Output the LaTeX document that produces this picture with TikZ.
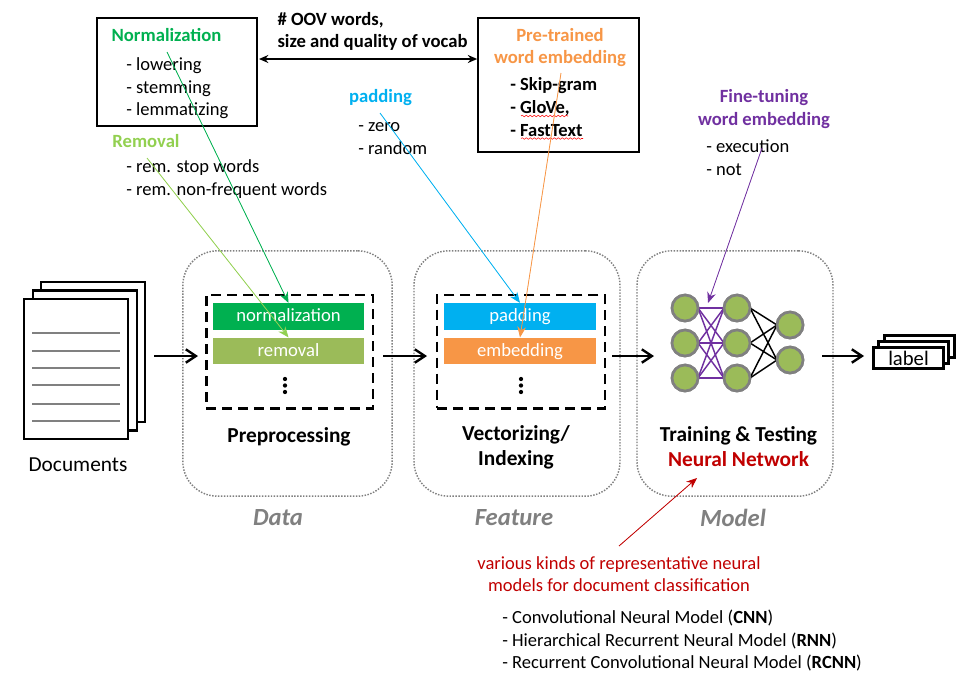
\documentclass[tikz,border=0pt]{standalone}
\usepackage{fontspec}
\setmainfont{Carlito}
\usetikzlibrary{arrows.meta,decorations.pathmorphing}
\definecolor{cgreen}{HTML}{00B050}
\definecolor{clime}{HTML}{92D050}
\definecolor{colive}{HTML}{9BBB59}
\definecolor{cblue}{HTML}{00B0F0}
\definecolor{corange}{HTML}{F79646}
\definecolor{cpurple}{HTML}{7030A0}
\definecolor{cred}{HTML}{C00000}
\definecolor{cgray}{HTML}{808080}
\tikzset{
  x=0.75pt,y=-0.75pt,
  txt/.style={font=\fontsize{13.9}{13.9}\selectfont,inner sep=0pt,anchor=base west,yshift=-5pt,text=black},
  head/.style={font=\fontsize{14}{16.6}\selectfont\bfseries,inner sep=0pt,align=center},
  bigtxt/.style={font=\fontsize{16}{18.7}\selectfont\bfseries,inner sep=0pt,align=center},
  infobox/.style={draw=black,line width=1.5pt,fill=white,inner sep=0pt},
  dotbox/.style={draw=cgray,dash pattern=on 1.1pt off 1.1pt,line width=1.1pt,rounded corners=26pt,inner sep=0pt},
  dashbox/.style={draw=black,line width=2pt,dash pattern=on 7.5pt off 4.5pt,inner sep=0pt},
  bar/.style={minimum width=113.5pt,minimum height=20pt,inner sep=0pt,text=white,text height=10.6pt,text depth=2.4pt,font=\fontsize{14}{14}\selectfont},
  page/.style={draw=black,line width=2.2pt,fill=white,inner sep=0pt},
  flow/.style={line width=2pt,-{Straight Barb[length=7.5pt,width=10pt,line width=1.8pt]}},
  thin arrow/.style={line width=0.6pt,-{Stealth[length=8pt,width=6.5pt]}},
  neuron/.style={circle,draw=cgray,fill=colive,line width=2pt,minimum size=19.5pt,inner sep=0pt},
  purpleedge/.style={draw=cpurple,line width=1.1pt},
  blackedge/.style={draw=black,line width=1.1pt},
  wavy/.style={draw=red,line width=0.4pt,decorate,decoration={snake,amplitude=0.6pt,segment length=3pt}},
  dotmark/.style={circle,fill=black,minimum size=3.2pt,inner sep=0pt},
}
\begin{document}
\begin{tikzpicture}
\useasboundingbox (0,0) rectangle (973,686);
% process containers
\node[dotbox,minimum width=157pt,minimum height=184pt] (data) at (287.5,373.5) {};
\node[dotbox,minimum width=154.5pt,minimum height=184pt] (feature) at (517,373.5) {};
\node[dotbox,minimum width=147pt,minimum height=184pt] (model) at (735,373.5) {};
% dashed boxes
\node[dashbox,minimum width=125pt,minimum height=85pt] (dashA) at (289.5,351.5) {};
\node[dashbox,minimum width=126pt,minimum height=85pt] (dashB) at (521,351.5) {};
\node[bar,fill=cgreen] (norm) at (288.5,316.5) {normalization};
\node[bar,fill=colive] (rem) at (288.5,351) {removal};
\node[bar,fill=cblue] (pad) at (520,316.5) {padding};
\node[bar,fill=corange] (emb) at (520,351) {embedding};
\foreach \n/\x in {a/285,b/521}{
  \node[dotmark] (d\n1) at (\x,379) {};
  \node[dotmark] (d\n2) at (\x,385.5) {};
  \node[dotmark] (d\n3) at (\x,392) {};
}
% documents
\node[page,minimum width=78pt,minimum height=105pt] (docC) at (93,352) {};
\node[page,minimum width=78pt,minimum height=105pt] (docB) at (85,360.5) {};
\node[page,minimum width=78pt,minimum height=105pt] (docA) at (76,369) {};
\foreach \i/\y in {1/333,2/351,3/368,4/385,5/404,6/421}{
  \coordinate (la\i) at (32,\y);
  \coordinate (lb\i) at (120,\y);
  \draw[cgray,line width=2.1pt] (la\i) -- (lb\i);
}
\node[font=\fontsize{16}{16}\selectfont,inner sep=0pt] (doclab) at (78,465) {Documents};
% label stack
\node[page,minimum width=52pt,minimum height=16pt] (lblC) at (919.5,346.5) {};
\node[page,minimum width=52pt,minimum height=16pt] (lblB) at (913.5,352.5) {};
\node[page,minimum width=52pt,minimum height=16pt,font=\fontsize{15.5}{15.5}\selectfont] (lblA) at (908.5,358) {label};
% network
\foreach \n/\x/\y in {a1/685/308,a2/685/343,a3/685/378,b1/737/308,b2/737/343,b3/737/378,c1/790/325,c2/790/360}{
  \node[neuron] (\n) at (\x,\y) {};
}
\foreach \s in {a1,a2,a3}\foreach \t in {b1,b2,b3}{
  \draw[purpleedge] (\s.center) ++(13,0) coordinate (p) (\t.center) ++(-13,0) coordinate (q) (p) -- (q);
}
\foreach \s in {b1,b2,b3}\foreach \t in {c1,c2}{
  \draw[blackedge] (\s.center) ++(13,0) coordinate (p) (\t.center) ++(-13,0) coordinate (q) (p) -- (q);
}
\foreach \n in {a1,a2,a3,b1,b2,b3,c1,c2}{\node[neuron] at (\n.center) {};}
% flow arrows
\coordinate (f1s) at (154,356); \coordinate (f1e) at (198,356);
\coordinate (f2s) at (383,356); \coordinate (f2e) at (427,356);
\coordinate (f3s) at (612,356); \coordinate (f3e) at (654,356);
\coordinate (f4s) at (822,356); \coordinate (f4e) at (864,356);
\draw[flow] (f1s) -- (f1e);
\draw[flow] (f2s) -- (f2e);
\draw[flow] (f3s) -- (f3e);
\draw[flow] (f4s) -- (f4e);
% container labels
\node[bigtxt] (lp) at (289,437) {Preprocessing};
\node[bigtxt] (lv) at (516,447.5) {Vectorizing/\\Indexing};
\node[bigtxt] (lt) at (738.5,447) {Training \& Testing\\\textcolor{cred}{Neural Network}};
\foreach \n/\t/\x in {tdata/Data/278,tfeat/Feature/514,tmodel/Model/733}{
  \node[font=\fontsize{18.5}{18.5}\selectfont\bfseries\itshape,text=cgray,inner sep=0pt] (\n) at (\x,517.5) {\t};
}
% top boxes
\node[infobox,minimum width=120pt,minimum height=81pt] (nbox) at (177,72) {};
\node[infobox,minimum width=120.5pt,minimum height=100.5pt] (pbox) at (558.5,85) {};
\node[head,text=cgreen] (hnorm) at (166.5,35) {Normalization};
\node[txt] (n1) at (126,64) {- lowering};
\node[txt] (n2) at (126,87) {- stemming};
\node[txt] (n3) at (126,109) {- lemmatizing};
\node[head,text=clime] (hrem) at (146,141) {Removal};
\node[txt] (r1) at (126,166) {- rem. stop words};
\node[txt] (r2) at (126,189) {- rem. non-frequent words};
\node[head,text=cblue] (hpad) at (380.5,97.5) {padding};
\node[txt] (z1) at (358,125) {- zero};
\node[txt] (z2) at (358,148) {- random};
\node[head,text=corange] (hpre) at (560,47.5) {Pre-trained\\word embedding};
\node[txt,font=\fontsize{13.9}{13.9}\selectfont\bfseries] (e1) at (510,84) {- Skip-gram};
\node[txt,font=\fontsize{13.9}{13.9}\selectfont\bfseries] (e2) at (510,107) {- GloVe,};
\node[txt,font=\fontsize{13.9}{13.9}\selectfont\bfseries] (e3) at (510,129.5) {- FastText};
\coordinate (w1a) at (521,116); \coordinate (w1b) at (568,116);
\coordinate (w2a) at (521,138.5); \coordinate (w2b) at (583,138.5);
\draw[wavy] (w1a) -- (w1b);
\draw[wavy] (w2a) -- (w2b);
\node[head,text=cpurple] (hfine) at (764,109) {Fine-tuning\\word embedding};
\node[txt] (f1t) at (706,146) {- execution};
\node[txt] (f2t) at (706,169) {- not};
\node[head,text=black,align=left] (oov) at (372.5,31.5) {\# OOV words,\\size and quality of vocab};
\draw[line width=1.2pt,{Stealth[length=7pt,width=6pt]}-{Stealth[length=7pt,width=6pt]}] (nbox.east |- 0,59) ++(1,0) coordinate (oa) -- (pbox.west |- 0,59);
% annotation arrows
\coordinate (sn) at (167,52); \coordinate (sr) at (147,158);
\coordinate (sp) at (380,113); \coordinate (so) at (561,73);
\coordinate (sf) at (762,148); \coordinate (sc) at (619,546);
\coordinate (ec) at (697,478);
\draw[thin arrow,draw=cgreen,fill=cgreen] (sn) -- (norm.north);
\draw[thin arrow,draw=clime,fill=clime] (sr) -- (rem.north);
\draw[thin arrow,draw=cblue,fill=cblue] (sp) -- (pad.north);
\draw[thin arrow,draw=corange,fill=corange] (so) -- (emb.north);
\draw[thin arrow,draw=cpurple,fill=cpurple] (sf) -- (708,303);
\draw[thin arrow,draw=cred,fill=cred] (sc) -- (ec);
% bottom text
\node[font=\fontsize{13.9}{17}\selectfont,text=cred,inner sep=0pt,align=center] (vk) at (619,574) {various kinds of representative neural\\models for document classification};
\node[txt] (m1) at (502,617) {- Convolutional Neural Model (\textbf{CNN})};
\node[txt] (m2) at (502,640) {- Hierarchical Recurrent Neural Model (\textbf{RNN})};
\node[txt] (m3) at (502,662) {- Recurrent Convolutional Neural Model (\textbf{RCNN})};
\end{tikzpicture}
\end{document}
